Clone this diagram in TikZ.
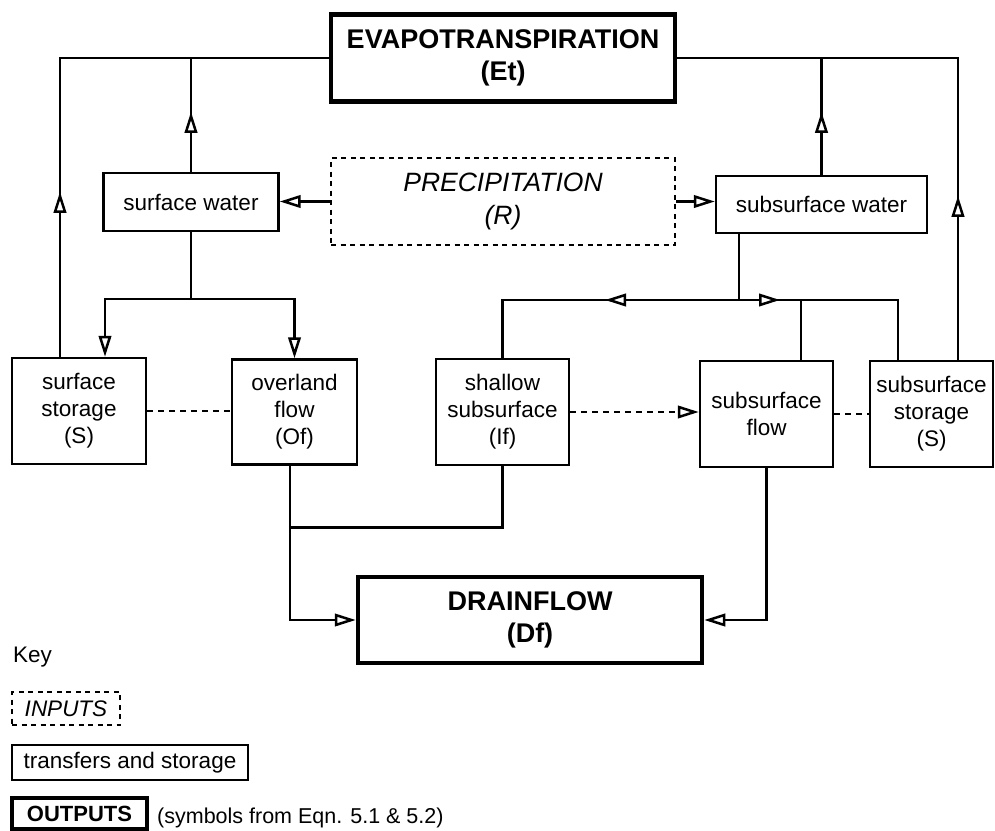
\documentclass[tikz,border=0pt]{standalone}
\usepackage{fontspec}
\setmainfont{Liberation Sans}
\usetikzlibrary{arrows.meta,decorations.markings,calc}
\newcommand\bxfont{\fontsize{22.5}{27}\selectfont}
\newcommand\hdfont{\bfseries\fontsize{27}{32}\selectfont}
\newcommand\infont{\itshape\fontsize{26.5}{33}\selectfont}
\begin{document}
\begin{tikzpicture}[x=1pt,y=-1pt,
  >={Triangle[length=21pt,width=12.5pt,fill=white]},
  conn/.style={line width=2.5pt},
  flow/.style={conn,->},
  arrowat/.style={postaction={decorate,decoration={markings,mark=at position #1 with {\arrow{>}}}}},
  dotline/.style={conn,dash pattern=on 6pt off 5pt},
  box/.style={draw,line width=2.4pt,inner sep=0pt,align=center,font=\bxfont},
  outbox/.style={box,line width=4.5pt,font=\hdfont},
  inbox/.style={box,dash pattern=on 5pt off 4.5pt,line width=2.6pt,font=\infont},
]
\useasboundingbox (0,0) rectangle (995,830);

% main boxes
\node[outbox,minimum width=344pt,minimum height=87pt] (Et) at (503,58) {EVAPOTRANSPIRATION\\(Et)};
\node[inbox,minimum width=344pt,minimum height=87pt] (pr) at (503,201.5) {PRECIPITATION\\(R)};
\node[box,minimum width=175pt,minimum height=58pt] (sw) at (191,202) {surface water};
\node[box,minimum width=211pt,minimum height=57pt] (ssw) at (821.5,204.5) {subsurface water};
\node[box,minimum width=134pt,minimum height=106pt] (ss) at (79,411) {surface\\storage\\(S)};
\node[box,minimum width=125pt,minimum height=105pt] (of) at (294.5,412) {overland\\flow\\(Of)};
\node[box,minimum width=133pt,minimum height=106pt] (sh) at (502.5,412) {shallow\\subsurface\\(If)};
\node[box,minimum width=133pt,minimum height=106pt] (sf) at (766.5,414) {subsurface\\flow};
\node[box,minimum width=123pt,minimum height=106pt] (st) at (931.5,414) {subsurface\\storage\\(S)};
\node[outbox,minimum width=344pt,minimum height=86pt] (Df) at (530,620) {DRAINFLOW\\(Df)};

% evapotranspiration returns
\coordinate (etL) at (60,58);
\coordinate (etR) at (958,58);
\draw[conn,arrowat=165pt] (ss.north -| etL) -- (etL) -- (Et.west);
\draw[conn,arrowat=60pt] (sw.north) -- (sw.north |- etL);
\draw[conn,arrowat=164pt] (st.north -| etR) -- (etR) -- (Et.east);
\draw[conn,arrowat=63pt] (ssw.north) -- (ssw.north |- etR);

% precipitation split
\draw[flow] (pr.west) -- (pr.west -| sw.east);
\draw[flow] (pr.east) -- (pr.east -| ssw.west);

% surface water split
\coordinate (swj) at (191,299);
\draw[conn] (sw.south) -- (swj);
\draw[flow] (swj) -| ($(ss.north)+(26,0)$);
\draw[flow] (swj) -| (of.north);

% subsurface water split
\coordinate (sswj) at (739,300);
\draw[conn] (ssw.south -| sswj) -- (sswj);
\draw[conn,arrowat=134pt] (sswj) -| (sh.north);
\draw[conn,arrowat=41pt] (sswj) -| ($(st.north)+(-33.5,0)$);
\draw[conn] ($(sf.north)+(34.5,0)$) coordinate (sfn) -- (sfn |- sswj);

% lateral links
\draw[dotline] (ss.east) -- (ss.east -| of.west);
\draw[dotline,->] (sh.east) -- (sh.east -| sf.west);
\draw[dotline] (sf.east) -- (sf.east -| st.west);

% drainflow inputs
\draw[flow] ($(of.south)+(-4.5,0)$) coordinate (ofs) -- (ofs |- Df.west) -- (Df.west);
\draw[conn] (sh.south) |- ($(ofs)+(0,62)$);
\draw[flow] (sf.south) |- (Df.east);

% key
\node[anchor=base west,font=\bxfont,inner sep=0pt] (key) at (13,662) {Key};
\node[inbox,font=\itshape\fontsize{22.5}{27}\selectfont,minimum width=108pt,minimum height=33pt] (kin) at (66,708.5) {INPUTS};
\node[box,minimum width=236pt,minimum height=35pt] (ktr) at (130,762.5) {transfers and storage};
\node[outbox,font=\bfseries\fontsize{22}{27}\selectfont,minimum width=135pt,minimum height=31pt] (kout) at (79.5,813.5) {OUTPUTS};
\node[anchor=base west,font=\fontsize{21.5}{26}\selectfont,inner sep=0pt] (ksym) at (157,823) {(symbols from Eqn. 5.1 \& 5.2)};
\end{tikzpicture}
\end{document}
